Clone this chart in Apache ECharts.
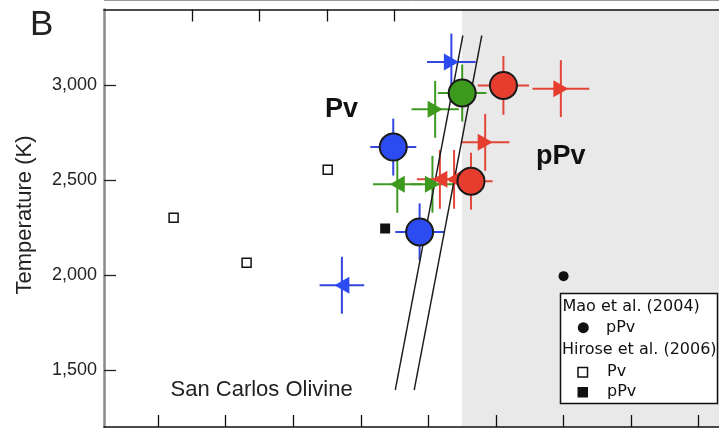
<!DOCTYPE html>
<html><head><meta charset="utf-8">
<script src="https://cdn.jsdelivr.net/npm/echarts@6/dist/echarts.min.js"></script>
<style>html,body{margin:0;padding:0;background:#fff}#c{width:719px;height:428px}</style>
</head><body><div id="c"></div>
<script>
// ---- data: [pressure (GPa), temperature (K), ±dP, ±dT] ----
const xTickValues = [100, 105, 110, 115, 120, 125, 130, 135, 140];
const topTickValues = [102.5, 107.5, 112.5, 117.5];
const yTickValues = [1500, 2000, 2500, 3000];
const blueCircles = [[117.4, 2675, 1.7, 150], [119.35, 2228, 1.8, 150]];
const greenCircles = [[122.5, 2960, 1.8, 150]];
const redCircles = [[125.55, 3000, 1.9, 155], [123.15, 2495, 1.6, 150]];
const blueTriRight = [[121.7, 3123, 1.8, 150]];
const blueTriLeft = [[113.6, 1947, 1.65, 150]];
const greenTriRight = [[120.5, 2874, 1.75, 150], [120.3, 2479, 1.6, 150]];
const greenTriLeft = [[117.7, 2479, 1.8, 150]];
const redTriRight = [[124.2, 2700, 1.8, 150], [129.8, 2983, 2.1, 150]];
const redTriLeft = [[120.85, 2505, 1.7, 155], [121.9, 2505, 1.7, 155]];
const hirosePv = [[101.15, 2302], [106.55, 2065], [112.55, 2556]];
const hirosePpv = [[116.8, 2246]];
const maoPpv = [[130, 1995]];
const boundaryA = [[117.55, 1395], [122.55, 3263]];
const boundaryB = [[118.95, 1395], [123.95, 3263]];
const pPvFieldStart = 122.48;
const xRange = [96, 141.5];
const yRange = [1200, 3400];

// ---- styling ----
const BLUE = '#2c4cf2', GREEN = '#3d9a1c', RED = '#e63d2e';
const BLUE_BAR = '#3346e0', GREEN_BAR = '#3f9a22', RED_BAR = '#e2463a';
const LEG_FONT = '16px "DejaVu Sans", Verdana, sans-serif';

function errSeries(data, color) {
  return {
    type: 'custom', data: data, encode: { x: 0, y: 1 }, z: 2, silent: true,
    renderItem: function (params, api) {
      const p = api.value(0), t = api.value(1), dp = api.value(2), dt = api.value(3);
      const a = api.coord([p - dp, t]), b = api.coord([p + dp, t]);
      const c = api.coord([p, t + dt]), d = api.coord([p, t - dt]);
      return { type: 'group', children: [
        { type: 'line', shape: { x1: a[0], y1: a[1], x2: b[0], y2: b[1] }, style: { stroke: color, lineWidth: 2 } },
        { type: 'line', shape: { x1: c[0], y1: c[1], x2: d[0], y2: d[1] }, style: { stroke: color, lineWidth: 2 } }
      ]};
    }
  };
}
function circles(data, color) {
  return { type: 'scatter', data: data, z: 5, symbol: 'circle', symbolSize: 27,
    itemStyle: { color: color, borderColor: '#1a1a1a', borderWidth: 2, opacity: 1 } };
}
function tris(data, color, rot) {
  return { type: 'scatter', data: data, z: 4, symbol: 'triangle', symbolSize: [17, 15], symbolRotate: rot,
    itemStyle: { color: color, opacity: 1 } };
}
function boundary(data) {
  return { type: 'line', data: data, z: 3, symbol: 'none', silent: true,
    lineStyle: { color: '#1a1a1a', width: 1.4 } };
}
function legText(x, y, s) {
  return { type: 'text', x: x, y: y, z: 40, style: { text: s, fill: '#111', font: LEG_FONT, textVerticalAlign: 'middle' } };
}

const chart = echarts.init(document.getElementById('c'), null, { renderer: 'canvas' });
chart.setOption({
  animation: false,
  backgroundColor: '#fff',
  grid: { left: 104, right: 0, top: 9.5, bottom: 1, outerBoundsMode: 'none', containLabel: false },
  xAxis: [
    { type: 'value', position: 'bottom', min: xRange[0], max: xRange[1], z: 10,
      axisLine: { show: true, lineStyle: { color: '#111', width: 1.5 } },
      axisTick: { show: true, inside: true, length: 12, customValues: xTickValues, lineStyle: { color: '#111', width: 1.3 } },
      axisLabel: { show: false }, splitLine: { show: false } },
    { type: 'value', position: 'top', min: xRange[0], max: xRange[1], z: 10,
      axisLine: { show: true, lineStyle: { color: '#111', width: 1.5 } },
      axisTick: { show: true, inside: true, length: 12, customValues: topTickValues, lineStyle: { color: '#111', width: 1.3 } },
      axisLabel: { show: false }, splitLine: { show: false } }
  ],
  yAxis: { type: 'value', min: yRange[0], max: yRange[1], z: 10,
    axisLine: { show: true, lineStyle: { color: '#8a8a8a', width: 2.5 } },
    axisTick: { show: true, inside: true, length: 12, customValues: yTickValues, lineStyle: { color: '#222', width: 1.3 } },
    axisLabel: { show: true, customValues: yTickValues, margin: 7, color: '#222', fontSize: 18,
      fontFamily: 'Liberation Sans, Arial, sans-serif',
      formatter: function (v) { return v.toLocaleString('en-US'); } },
    splitLine: { show: false } },
  series: [
    { type: 'scatter', data: [], z: 1, silent: true,
      markArea: { silent: true, itemStyle: { color: '#e9e9e9' },
        data: [[{ xAxis: pPvFieldStart }, { xAxis: xRange[1] }]] } },
    errSeries(blueCircles.concat(blueTriRight, blueTriLeft), BLUE_BAR),
    errSeries(greenCircles.concat(greenTriRight, greenTriLeft), GREEN_BAR),
    errSeries(redCircles.concat(redTriRight, redTriLeft), RED_BAR),
    boundary(boundaryA),
    boundary(boundaryB),
    tris(blueTriRight, BLUE, -90),
    tris(blueTriLeft, BLUE, 90),
    tris(greenTriRight, GREEN, -90),
    tris(greenTriLeft, GREEN, 90),
    tris(redTriRight, RED, -90),
    tris(redTriLeft, RED, 90),
    circles(blueCircles, BLUE),
    circles(greenCircles, GREEN),
    circles(redCircles, RED),
    { name: 'Hirose Pv', type: 'scatter', data: hirosePv, z: 6, symbol: 'rect', symbolSize: 9,
      itemStyle: { color: '#fff', borderColor: '#111', borderWidth: 1.5, opacity: 1 } },
    { name: 'Hirose pPv', type: 'scatter', data: hirosePpv, z: 6, symbol: 'rect', symbolSize: 10,
      itemStyle: { color: '#111', opacity: 1 } },
    { name: 'Mao pPv', type: 'scatter', data: maoPpv, z: 6, symbol: 'circle', symbolSize: 10,
      itemStyle: { color: '#111', opacity: 1 } }
  ],
  graphic: [
    { type: 'line', shape: { x1: 104, y1: 0.5, x2: 719, y2: 0.5 }, style: { stroke: '#9a9a9a', lineWidth: 1 }, z: 20 },
    { type: 'text', x: 30, y: 25, z: 20, style: { text: 'B', fill: '#222', font: '35px "Liberation Sans", Arial, sans-serif', textVerticalAlign: 'middle' } },
    { type: 'text', x: 325, y: 109.5, z: 20, style: { text: 'Pv', fill: '#111', font: 'bold 27px "Liberation Sans", Arial, sans-serif', textVerticalAlign: 'middle' } },
    { type: 'text', x: 536, y: 156.5, z: 20, style: { text: 'pPv', fill: '#111', font: 'bold 27px "Liberation Sans", Arial, sans-serif', textVerticalAlign: 'middle' } },
    { type: 'text', x: 170.5, y: 389.5, z: 20, style: { text: 'San Carlos Olivine', fill: '#222', font: '22px "Liberation Sans", Arial, sans-serif', textVerticalAlign: 'middle' } },
    { type: 'text', x: 24.5, y: 215, rotation: Math.PI / 2, z: 20, style: { text: 'Temperature (K)', fill: '#222', font: '22px "Liberation Sans", Arial, sans-serif', textAlign: 'center', textVerticalAlign: 'middle' } },
    { type: 'rect', z: 35, shape: { x: 560.5, y: 293.5, width: 157, height: 110 }, style: { fill: '#fff', stroke: '#111', lineWidth: 1.5 } },
    legText(562.5, 307, 'Mao et al. (2004)'),
    { type: 'circle', z: 40, shape: { cx: 583.3, cy: 327.7, r: 5.5 }, style: { fill: '#111' } },
    legText(606, 327.5, 'pPv'),
    legText(562, 349.5, 'Hirose et al. (2006)'),
    { type: 'rect', z: 40, shape: { x: 578, y: 367.5, width: 9.5, height: 9.5 }, style: { fill: '#fff', stroke: '#111', lineWidth: 1.5 } },
    legText(607, 371.5, 'Pv'),
    { type: 'rect', z: 40, shape: { x: 577.5, y: 387, width: 10.5, height: 10.5 }, style: { fill: '#111' } },
    legText(607, 391.5, 'pPv')
  ]
});
</script>
</body></html>
